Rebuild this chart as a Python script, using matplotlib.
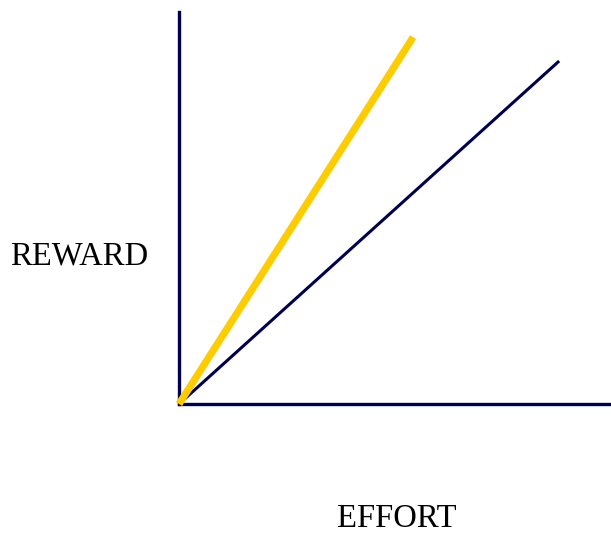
import matplotlib.pyplot as plt

# effort / reward end points of the two lines (arbitrary units, origin at 0)
effort_steep = [0, 5.42]
reward_steep = [0, 9.36]
effort_flat = [0, 8.80]
reward_flat = [0, 8.75]

navy = '#000050'
gold = '#FFCC00'

fig = plt.figure(figsize=(6.11, 5.33), dpi=100)
ax = fig.add_axes([179 / 611, (533 - 404) / 533, 432 / 611, 392 / 533])
ax.set_xlim(0, 10)
ax.set_ylim(0, 10)

ax.plot(effort_flat, reward_flat, color=navy, lw=2.2, clip_on=False,
        solid_capstyle='butt', zorder=3)
ax.plot(effort_steep, reward_steep, color=gold, lw=5.2, clip_on=False,
        solid_capstyle='butt', zorder=4)

for side in ['top', 'right']:
    ax.spines[side].set_visible(False)
for side in ['left', 'bottom']:
    ax.spines[side].set_color(navy)
    ax.spines[side].set_linewidth(2.4)
ax.set_xticks([])
ax.set_yticks([])

fig.text(79 / 611, 1 - 256 / 533, 'REWARD', family='Liberation Serif',
         fontsize=23.5, ha='center', va='center')
fig.text(397 / 611, 1 - 519 / 533, 'EFFORT', family='Liberation Serif',
         fontsize=23.5, ha='center', va='center')

fig.savefig('out.png', dpi=100)
